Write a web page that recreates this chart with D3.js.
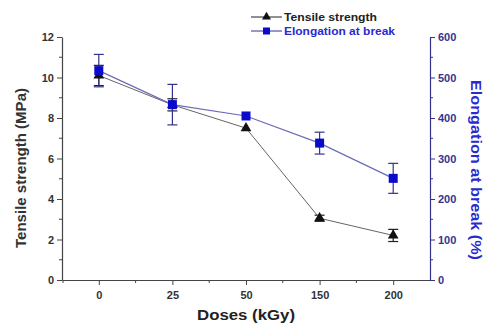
<!DOCTYPE html>
<html lang="en">
  <head>
    <meta charset="utf-8">
    <title>Tensile strength and elongation vs dose</title>
    <script src="https://d3js.org/d3.v7.js"></script>
    <style>
      body { margin: 0; background: #fff; overflow: hidden; }
      svg { display: block; }
      text { font-family: "Liberation Sans", Arial, sans-serif; font-weight: bold; }
    </style>
  </head>
  <body>
    <svg></svg>
  <script>

  // data
  var doses = ["0", "25", "50", "150", "200"];
  var tensile = [10.1, 8.65, 7.5, 3.05, 2.2];
  var tensileErr = [0.5, 0.3, 0, 0.15, 0.3];
  var elongation = [517, 433, 405, 338, 251];
  var elongationErr = [40, 50, 0, 27, 37];
  var leftTicks = [0, 2, 4, 6, 8, 10, 12];
  var rightTicks = [0, 100, 200, 300, 400, 500, 600];

  var w = 485, h = 326;
  var margin = {top: 37, right: 55, bottom: 46, left: 62};
  var innerWidth = w - margin.left - margin.right;
  var innerHeight = h - margin.top - margin.bottom;

  var svg = d3.select("svg").attr("width", w).attr("height", h);
  var g = svg.append("g").attr("transform", `translate(${margin.left},${margin.top})`);

  var xScale = d3.scalePoint().domain(doses).range([0, innerWidth]).padding(0.5);
  var yLeft = d3.scaleLinear().domain([0, 12]).range([innerHeight, 0]);
  var yRight = d3.scaleLinear().domain([0, 600]).range([innerHeight, 0]);

  var gray = "#444", navy = "#33338f";

  // minor ticks
  var step = xScale.step();
  var xMinor = doses.slice(0, -1).map(d => xScale(d) + step / 2).concat([xScale(doses[0]) - step / 2 + 1]);
  g.selectAll(".xminor").data(xMinor).enter().append("line")
      .attr("x1", d => d).attr("x2", d => d)
      .attr("y1", innerHeight).attr("y2", innerHeight + 3)
      .attr("stroke", gray);
  g.selectAll(".lminor").data([1, 3, 5, 7, 9, 11]).enter().append("line")
      .attr("x1", -3).attr("x2", 0)
      .attr("y1", d => yLeft(d)).attr("y2", d => yLeft(d))
      .attr("stroke", gray);
  g.selectAll(".rminor").data([50, 150, 250, 350, 450, 550]).enter().append("line")
      .attr("x1", innerWidth).attr("x2", innerWidth + 3)
      .attr("y1", d => yRight(d)).attr("y2", d => yRight(d))
      .attr("stroke", navy);

  var xAxis = g.append("g")
      .attr("transform", `translate(0,${innerHeight})`)
      .call(d3.axisBottom(xScale).tickSizeInner(5).tickSizeOuter(0).tickPadding(6));
  xAxis.select(".domain").attr("stroke", gray).attr("stroke-width", 1.2);
  xAxis.selectAll(".tick line").attr("stroke", gray);
  xAxis.selectAll("text").attr("fill", "#333").style("font-size", "11px");

  var leftAxis = g.append("g")
      .call(d3.axisLeft(yLeft).tickValues(leftTicks).tickSizeInner(5).tickSizeOuter(0).tickPadding(3));
  leftAxis.select(".domain").attr("stroke", gray).attr("stroke-width", 1.2);
  leftAxis.selectAll(".tick line").attr("stroke", gray);
  leftAxis.selectAll("text").attr("fill", "#333").style("font-size", "11px");

  var rightAxis = g.append("g")
      .attr("transform", `translate(${innerWidth},0)`)
      .call(d3.axisRight(yRight).tickValues(rightTicks).tickSizeInner(5).tickSizeOuter(0).tickPadding(3));
  rightAxis.select(".domain").attr("stroke", navy).attr("stroke-width", 1.2);
  rightAxis.selectAll(".tick line").attr("stroke", navy);
  rightAxis.selectAll("text").attr("fill", navy).style("font-size", "11px");

  // series
  var tData = doses.map((d, i) => ({x: d, y: tensile[i], e: tensileErr[i]}));
  var eData = doses.map((d, i) => ({x: d, y: elongation[i], e: elongationErr[i]}));

  function errorBars(data, y, color) {
    var eb = g.append("g").selectAll("g").data(data.filter(d => d.e > 0)).enter().append("g")
        .attr("stroke", color).attr("stroke-width", 1.2);
    eb.append("line")
        .attr("x1", d => xScale(d.x)).attr("x2", d => xScale(d.x))
        .attr("y1", d => y(d.y - d.e)).attr("y2", d => y(d.y + d.e));
    [-1, 1].forEach(s => {
      eb.append("line")
          .attr("x1", d => xScale(d.x) - 5).attr("x2", d => xScale(d.x) + 5)
          .attr("y1", d => y(d.y + s * d.e)).attr("y2", d => y(d.y + s * d.e));
    });
  }

  errorBars(tData, yLeft, "#222");
  errorBars(eData, yRight, navy);

  var line = y => d3.line().x(d => xScale(d.x)).y(d => y(d.y));

  g.append("path").datum(tData)
      .attr("d", line(yLeft))
      .attr("fill", "none").attr("stroke", "#666").attr("stroke-width", 1);
  g.append("path").datum(eData)
      .attr("d", line(yRight))
      .attr("fill", "none").attr("stroke", "#6b6bb8").attr("stroke-width", 1.2);

  var tri = d3.symbol().type(d3.symbolTriangle).size(50);
  g.selectAll(".tri").data(tData).enter().append("path")
      .attr("d", tri)
      .attr("transform", d => `translate(${xScale(d.x)},${yLeft(d.y)})`)
      .attr("fill", "#111");
  g.selectAll(".sq").data(eData).enter().append("rect")
      .attr("x", d => xScale(d.x) - 4.5).attr("y", d => yRight(d.y) - 4.5)
      .attr("width", 9).attr("height", 9)
      .attr("fill", "#0a0acc");

  // axis titles
  svg.append("text")
      .attr("transform", "translate(26,168) rotate(-90)")
      .attr("text-anchor", "middle").style("font-size", "14px").attr("fill", "#333")
      .attr("textLength", 160).attr("lengthAdjust", "spacingAndGlyphs")
      .text("Tensile strength (MPa)");
  svg.append("text")
      .attr("transform", "translate(471,170) rotate(90)")
      .attr("text-anchor", "middle").style("font-size", "14.5px").attr("fill", "#2a2ad0")
      .attr("textLength", 180).attr("lengthAdjust", "spacingAndGlyphs")
      .text("Elongation at break  (%)");
  svg.append("text")
      .attr("x", 197).attr("y", 320)
      .style("font-size", "14px").attr("fill", "#222")
      .attr("textLength", 98).attr("lengthAdjust", "spacingAndGlyphs")
      .text("Doses (kGy)");

  // legend
  var legend = svg.append("g").attr("transform", "translate(251,17)");
  legend.append("line").attr("x1", 0).attr("x2", 31).attr("y1", 0).attr("y2", 0).attr("stroke", "#222");
  legend.append("path").attr("d", d3.symbol().type(d3.symbolTriangle).size(35))
      .attr("transform", "translate(15.5,0)").attr("fill", "#111");
  legend.append("text").attr("x", 33).attr("y", 4).style("font-size", "11px").attr("fill", "#222")
      .attr("textLength", 93).attr("lengthAdjust", "spacingAndGlyphs")
      .text("Tensile strength");
  legend.append("line").attr("x1", 0).attr("x2", 31).attr("y1", 14).attr("y2", 14).attr("stroke", navy);
  legend.append("rect").attr("x", 12).attr("y", 10.5).attr("width", 7).attr("height", 7).attr("fill", "#0a0acc");
  legend.append("text").attr("x", 33).attr("y", 18).style("font-size", "11px").attr("fill", "#2a2ad0")
      .attr("textLength", 111).attr("lengthAdjust", "spacingAndGlyphs")
      .text("Elongation at break");

  </script>
  </body>
</html>
